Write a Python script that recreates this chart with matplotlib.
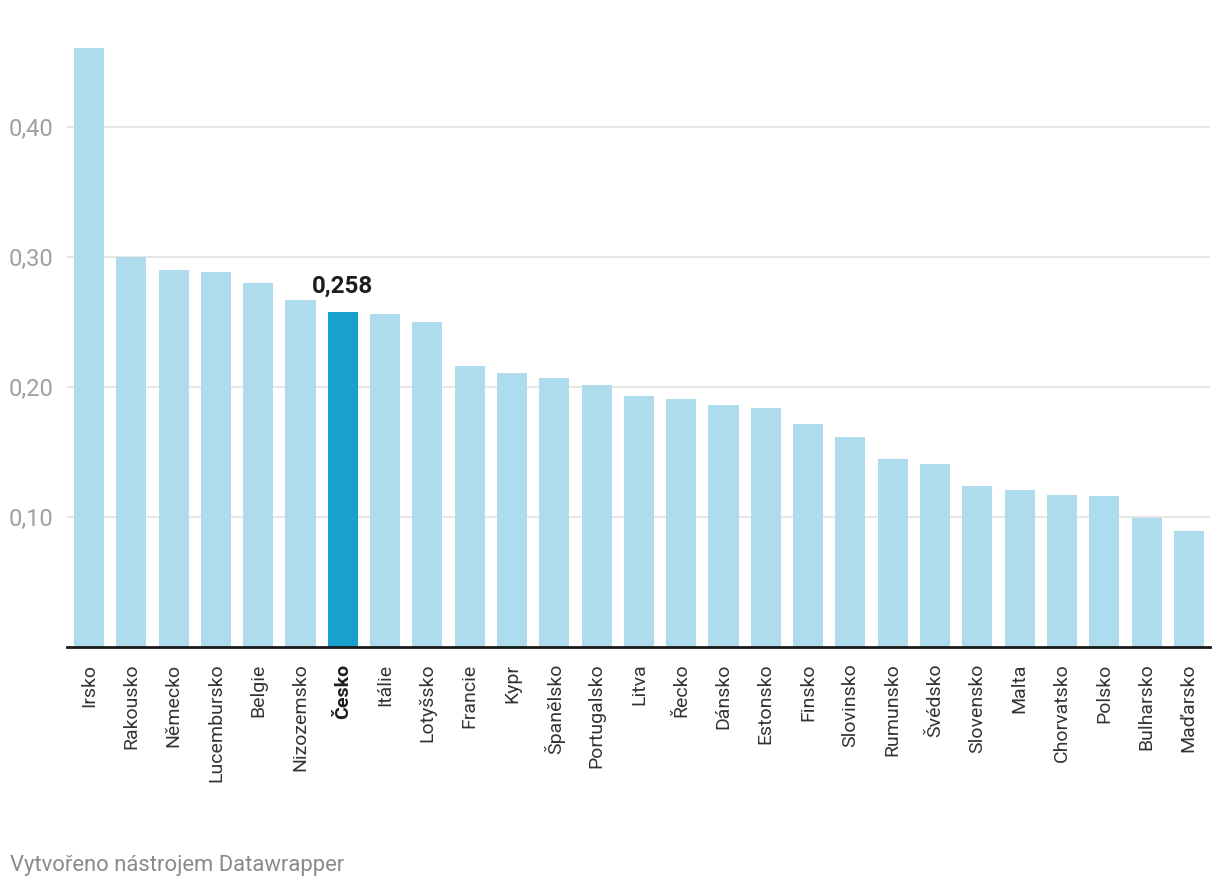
import matplotlib.pyplot as plt

plt.rcParams['font.family'] = ['Roboto', 'DejaVu Sans']

# Hodnoty podle zemí
countries = ['Irsko', 'Rakousko', 'Německo', 'Lucembursko', 'Belgie', 'Nizozemsko',
             'Česko', 'Itálie', 'Lotyšsko', 'Francie', 'Kypr', 'Španělsko',
             'Portugalsko', 'Litva', 'Řecko', 'Dánsko', 'Estonsko', 'Finsko',
             'Slovinsko', 'Rumunsko', 'Švédsko', 'Slovensko', 'Malta',
             'Chorvatsko', 'Polsko', 'Bulharsko', 'Maďarsko']
values = [0.461, 0.300, 0.290, 0.289, 0.280, 0.267,
          0.258, 0.256, 0.250, 0.216, 0.211, 0.207,
          0.202, 0.193, 0.191, 0.186, 0.184, 0.172,
          0.162, 0.145, 0.141, 0.124, 0.121,
          0.117, 0.116, 0.099, 0.089]
highlight = 'Česko'
yticks = [0.10, 0.20, 0.30, 0.40]
ytick_labels = ['0,10', '0,20', '0,30', '0,40']

light = '#afdcec'
dark = '#18a1cd'

fig = plt.figure(figsize=(12.2, 8.9), dpi=100)
ax = fig.add_axes([0.0549, 0.273, 0.9369, 0.673])

x = range(len(countries))
colors = [dark if c == highlight else light for c in countries]
ax.bar(x, values, width=0.71, color=colors, zorder=2)

# popisek zvýrazněné hodnoty
i = countries.index(highlight)
ax.annotate(f'{values[i]:.3f}'.replace('.', ','), (i, values[i]),
            xytext=(0, 10), textcoords='offset points', ha='center', va='bottom',
            fontsize=17.4, fontweight='bold', color='#1d1d1d')

ax.set_xlim(-0.52, len(countries) - 0.5)
ax.set_ylim(0, 0.461)

ax.set_yticks(yticks)
ax.set_yticklabels(ytick_labels, fontsize=17, color='#a0a0a0')
ax.tick_params(axis='y', length=0, pad=10)
ax.grid(axis='y', color='#e4e4e4', linewidth=1.3, zorder=0)

ax.set_xticks(list(x))
ax.set_xticklabels(countries, rotation=90, fontsize=14, color='#333333')
ax.tick_params(axis='x', length=0, pad=12)
for lbl in ax.get_xticklabels():
    if lbl.get_text() == highlight:
        lbl.set_fontweight('bold')
        lbl.set_color('#1d1d1d')

for s in ['top', 'right', 'left']:
    ax.spines[s].set_visible(False)
ax.spines['bottom'].set_color('#1a1a1a')
ax.spines['bottom'].set_linewidth(2)
ax.spines['bottom'].set_zorder(3)

fig.text(10 / 1220, 1 - 866 / 890, 'Vytvořeno nástrojem Datawrapper',
         fontsize=15.8, color='#8a8a8a', ha='left', va='center')

fig.savefig('out.png', dpi=100)
